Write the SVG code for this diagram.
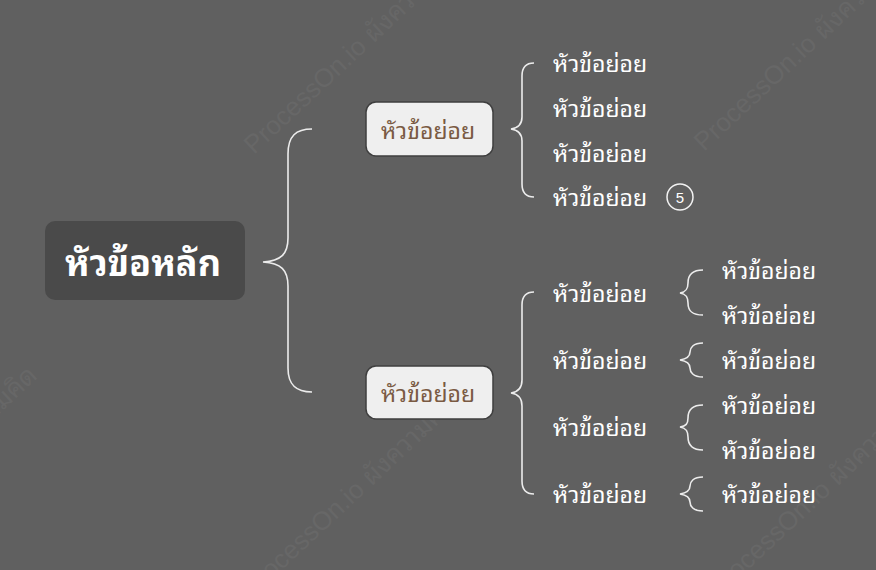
<svg xmlns="http://www.w3.org/2000/svg" width="876" height="570" viewBox="0 0 876 570">
<style>
.wm{font-family:"Liberation Sans","Noto Sans Thai Looped",sans-serif;font-size:26px;fill:#676767}
.br{fill:none;stroke:#ececec;stroke-width:1.6}
.t{font-family:"Noto Sans Thai Looped","Noto Sans Thai",sans-serif;font-size:23px;fill:#ffffff;dominant-baseline:central}
.sub{font-family:"Noto Sans Thai Looped","Noto Sans Thai",sans-serif;font-size:23px;fill:#7a5a43;text-anchor:middle;dominant-baseline:central}
</style>
<rect width="876" height="570" fill="#606060"/>
<g id="watermark">
<text class="wm" transform="translate(254,155) rotate(-43)">ProcessOn.io ผังความคิด</text>
<text class="wm" transform="translate(704,152) rotate(-43)">ProcessOn.io ผังความคิด</text>
<text class="wm" transform="translate(252,598) rotate(-43)">ProcessOn.io ผังความคิด</text>
<text class="wm" transform="translate(718,598) rotate(-43)">ProcessOn.io ผังความคิด</text>
<text class="wm" transform="translate(-168,570) rotate(-43)">ProcessOn.io ผังความคิด</text>
</g>
<g id="connectors">
<path class="br" d="M312,129 C296,129 288,136 288,154 L288,238 C288,254 281,261 263,262 C281,263 288,270 288,286 L288,368 C288,385 296,392 312,392"/>
<path class="br" d="M534,63 C526,63 522,68 522,76 L522,117 C522,124 518,128 511,129 C518,130 522,134 522,141 L522,184 C522,192 526,197 534,197"/>
<path class="br" d="M534,292 C526,292 522,297 522,305 L522,380 C522,388 518,392 511,393 C518,394 522,398 522,406 L522,481 C522,489 526,494 534,494"/>
<path class="br" d="M703,270 C692,270 688,275 688,283 C688,289 686,292 680,293 C686,294 688,297 688,303 C688,311 692,315 703,315"/>
<path class="br" d="M703,343 C693,343 690,348 690,352 C690,357 686,359 680,360 C686,361 690,363 690,368 C690,372 693,377 703,377"/>
<path class="br" d="M703,405 C692,405 688,410 688,418 C688,424 686,426 680,427 C686,428 688,431 688,437 C688,445 692,450 703,450"/>
<path class="br" d="M703,477 C693,477 690,482 690,486 C690,491 686,493 680,494 C686,495 690,497 690,502 C690,506 693,511 703,511"/>
</g>
<g id="root">
<rect x="45" y="221" width="200" height="79" rx="10" fill="#4a4a4a"/>
<text x="143" y="260" text-anchor="middle" dominant-baseline="central" font-family="'Noto Sans Thai Looped','Noto Sans Thai',sans-serif" font-size="36" font-weight="bold" fill="#ffffff">หัวข้อหลัก</text>
</g>
<g id="sub1">
<rect x="366" y="102" width="127" height="54" rx="10" fill="#efefef" stroke="#3f3f3f" stroke-width="1.5"/>
<text class="sub" x="428" y="128">หัวข้อย่อย</text>
</g>
<g id="sub2">
<rect x="366" y="366" width="127" height="53" rx="10" fill="#efefef" stroke="#3f3f3f" stroke-width="1.5"/>
<text class="sub" x="428" y="391">หัวข้อย่อย</text>
</g>
<g id="a1"><text class="t" x="553" y="61">หัวข้อย่อย</text></g>
<g id="a2"><text class="t" x="553" y="106">หัวข้อย่อย</text></g>
<g id="a3"><text class="t" x="553" y="151">หัวข้อย่อย</text></g>
<g id="a4"><text class="t" x="553" y="195">หัวข้อย่อย</text>
<circle cx="680" cy="197" r="13" fill="none" stroke="#f2f2f2" stroke-width="1.5"/>
<text x="680" y="197" text-anchor="middle" dominant-baseline="central" font-family="'Liberation Sans',sans-serif" font-size="15" fill="#ffffff">5</text></g>
<g id="b1"><text class="t" x="553" y="291">หัวข้อย่อย</text></g>
<g id="b2"><text class="t" x="553" y="358">หัวข้อย่อย</text></g>
<g id="b3"><text class="t" x="553" y="425">หัวข้อย่อย</text></g>
<g id="b4"><text class="t" x="553" y="492">หัวข้อย่อย</text></g>
<g id="c1"><text class="t" x="722" y="268">หัวข้อย่อย</text></g>
<g id="c2"><text class="t" x="722" y="313">หัวข้อย่อย</text></g>
<g id="c3"><text class="t" x="722" y="358">หัวข้อย่อย</text></g>
<g id="c4"><text class="t" x="722" y="403">หัวข้อย่อย</text></g>
<g id="c5"><text class="t" x="722" y="448">หัวข้อย่อย</text></g>
<g id="c6"><text class="t" x="722" y="492">หัวข้อย่อย</text></g>
</svg>
